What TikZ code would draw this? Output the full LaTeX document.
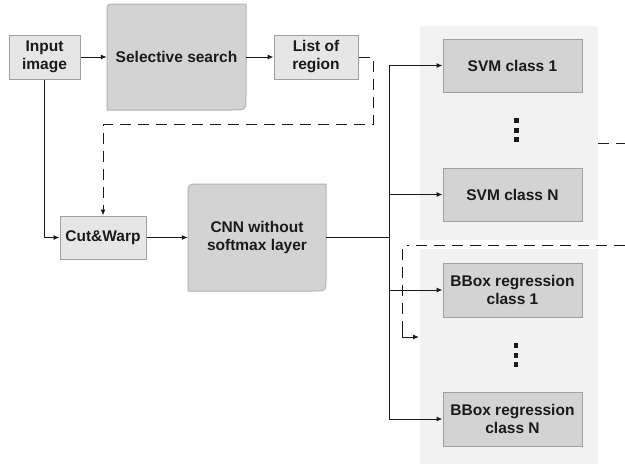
\documentclass[tikz,border=0pt]{standalone}
\usepackage{fontspec}
\setmainfont{Liberation Sans}
\usetikzlibrary{arrows.meta}
\definecolor{lightbox}{HTML}{E6E6E6}
\definecolor{midbox}{HTML}{D3D3D3}
\definecolor{boxline}{HTML}{A0A0A0}
\definecolor{panelbg}{HTML}{F2F2F2}
\definecolor{ink}{HTML}{1A1A1A}
\tikzset{
  txt/.style={font=\bfseries\fontsize{15.5}{18}\selectfont, text=ink, align=center, inner sep=0pt},
  lbox/.style={txt, draw=boxline, line width=1pt, fill=lightbox},
  cbox/.style={txt, draw=boxline, line width=1pt, fill=midbox, minimum width=139pt},
  bigshape/.style={draw=boxline!80, line width=1pt, fill=midbox},
  conn/.style={draw=ink, line width=1pt},
  arr/.style={conn, -{Latex[length=6pt,width=5pt]}},
  dasharr/.style={conn, dash pattern=on 11pt off 7pt, -{Latex[length=6pt,width=5pt]}},
  dashline/.style={conn, dash pattern=on 11pt off 7pt},
  panel/.style={fill=panelbg, draw=none, inner sep=0pt},
}
\begin{document}
\begin{tikzpicture}[x=1pt,y=-1pt]
\useasboundingbox (0,0) rectangle (625,464);
% panels
\node[panel, minimum width=178pt, minimum height=214pt] (p1) at (509,133) {};
\node[panel, minimum width=178pt, minimum height=215pt] (p2) at (509,356.5) {};
% rounded shapes
\path[bigshape] (107,110) -- (107,12) .. controls (107,4) .. (115,4) -- (246,4) -- (246,96) .. controls (246,110) .. (232,110) -- cycle;
\path[bigshape] (188,291) -- (188,195) .. controls (188,184) .. (199,184) -- (326,184) -- (326,280) .. controls (326,291) .. (315,291) -- cycle;
% nodes
\node[lbox, minimum width=71pt, minimum height=44pt] (inp) at (44.5,57) {Input\\image};
\node[txt, minimum width=139pt, minimum height=106pt] (ss) at (176.5,57) {Selective search};
\node[lbox, minimum width=84pt, minimum height=44pt] (lor) at (316,57) {List of\\region};
\node[lbox, minimum width=86pt, minimum height=43pt] (cw) at (103,237.5) {Cut\&Warp};
\node[txt, minimum width=138pt, minimum height=107pt] (cnn) at (257,237.5) {CNN without\\softmax layer};
\node[cbox, minimum height=53pt] (svm1) at (512.5,65.5) {SVM class 1};
\node[cbox, minimum height=53pt] (svmN) at (512.5,194.5) {SVM class N};
\node[cbox, minimum height=54pt] (bb1) at (512.5,290) {BBox regression\\class 1};
\node[cbox, minimum height=54pt] (bbN) at (512.5,419) {BBox regression\\class N};
% vertical dots
\foreach \yy in {120,130,139}{\fill[ink] (514,\yy-2.5) rectangle (518.5,\yy+2.5);}
\foreach \yy in {345,355,364}{\fill[ink] (513.5,\yy-2.5) rectangle (518,\yy+2.5);}
% connectors
\draw[arr] (inp) -- (ss);
\draw[arr] (ss) -- (lor);
\draw[arr] (inp.south) |- (cw.west);
\draw[arr] (cw) -- (cnn);
\coordinate (tr) at (389,237.5);
\draw[conn] (cnn.east) -- (tr);
\draw[arr] (tr) |- (svm1.west);
\draw[arr] (tr) |- (svmN.west);
\draw[arr] (tr) |- (bb1.west);
\draw[arr] (tr) |- (bbN.west);
\coordinate (d1) at (373,57);
\coordinate (d2) at (373,124);
\coordinate (d3) at (103,124);
\draw[dasharr] (lor.east) -- (d1) -- (d2) -- (d3) -- (cw.north);
\coordinate (r1) at (598,143);
\coordinate (r2) at (625,143);
\draw[dashline] (r1) -- (r2);
\coordinate (e1) at (625,245);
\coordinate (e2) at (407,245);
\coordinate (e5) at (402,249);
\coordinate (e3) at (402,337);
\coordinate (e4) at (419,337);
\draw[dashline] (e1) -- (e2);
\draw[dashline] (e5) -- (e3);
\draw[arr] (402,326) -- (e3) -- (e4);
\end{tikzpicture}
\end{document}
